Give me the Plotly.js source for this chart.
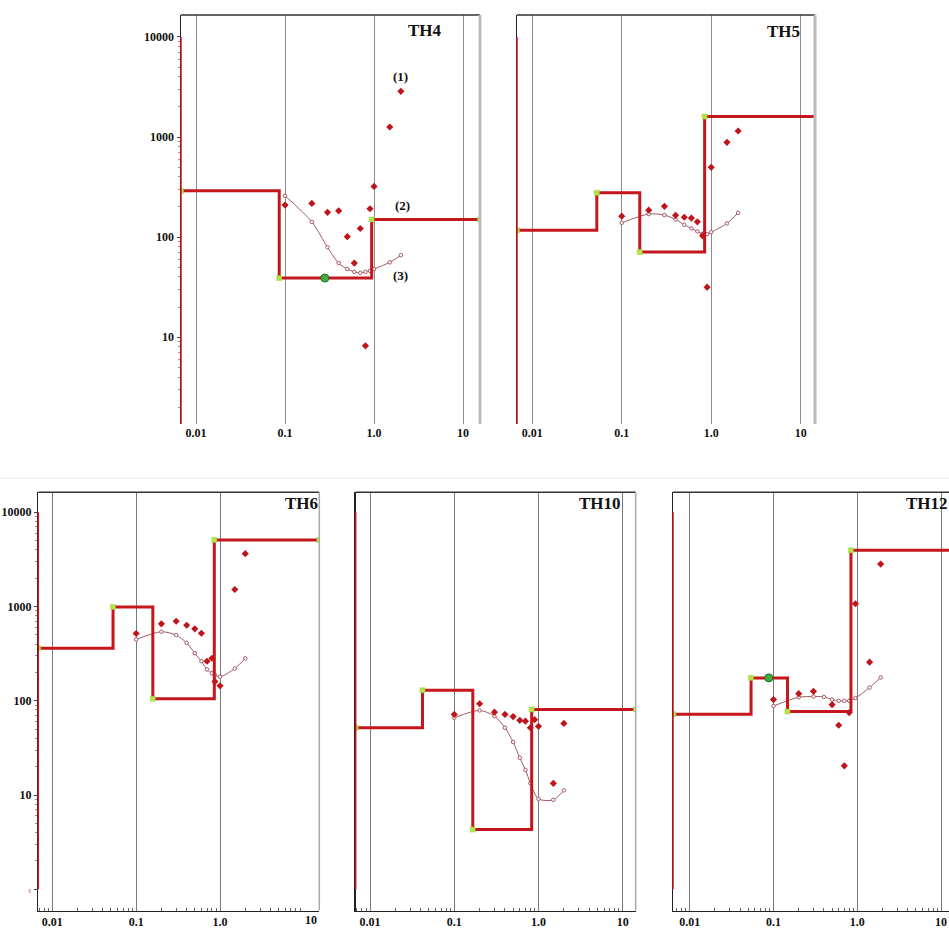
<!DOCTYPE html>
<html><head><meta charset="utf-8">
<script src="https://cdn.plot.ly/plotly-3.0.1.min.js"></script>
<style>html,body{margin:0;padding:0;background:#fff}#chart{width:949px;height:928px}</style>
</head><body><div id="chart"></div>
<script>
// ---------- data ----------
const panelNames = ['TH4', 'TH5', 'TH6', 'TH10', 'TH12'];
const xTickVals = [0.01, 0.1, 1, 10];
const xTickText = ['0.01', '0.1', '1.0', '10'];
const yTickValsTop = [10, 100, 1000, 10000];
const yTickTextTop = ['10', '100', '1000', '10000'];
const yTickValsBot = [1, 10, 100, 1000, 10000];
const yTickTextBot = ['<span style="font-size:7px;color:#d08080">1</span>', '10', '100', '1000', '10000'];

// layered model (layer tops / resistivity)
const th4LayerX = [0.00678, 0.086, 0.94, 15.5];
const th4LayerY = [290, 39, 150, 150];
const th4ObsX = [0.1, 0.2, 0.3, 0.4, 0.5, 0.6, 0.7, 0.8, 0.9, 1.0, 1.5, 2.0];
const th4ObsY = [209, 217, 177, 183, 101, 55, 122, 8.2, 192, 321, 1260, 2860];
const th4FitX = [0.1, 0.2, 0.3, 0.4, 0.5, 0.6, 0.7, 0.8, 0.9, 1.0, 1.5, 2.0];
const th4FitY = [259, 142, 79, 55, 48, 45, 44, 45, 46, 48, 56, 66];
const th4PointX = [0.28];
const th4PointY = [39];

const th5LayerX = [0.00675, 0.0526, 0.159, 0.844, 15.5];
const th5LayerY = [117, 277, 71, 1600, 1600];
const th5ObsX = [0.1, 0.2, 0.3, 0.4, 0.5, 0.6, 0.7, 0.8, 0.9, 1.0, 1.5, 2.0];
const th5ObsY = [162, 186, 203, 165, 158, 155, 142, 103, 31.6, 498, 885, 1148];
const th5FitX = [0.1, 0.2, 0.3, 0.4, 0.5, 0.6, 0.7, 0.8, 0.9, 1.0, 1.5, 2.0];
const th5FitY = [139, 170, 166, 150, 133, 122, 114, 108, 107, 112, 137, 175];

const th6LayerX = [0.0068, 0.053, 0.158, 0.855, 15.3];
const th6LayerY = [361, 990, 105, 5080, 5080];
const th6ObsX = [0.1, 0.2, 0.3, 0.4, 0.5, 0.6, 0.7, 0.8, 0.87, 1.0, 1.5, 2.0];
const th6ObsY = [518, 655, 698, 633, 580, 521, 263, 283, 160, 144, 1515, 3640];
const th6FitX = [0.1, 0.2, 0.3, 0.4, 0.5, 0.6, 0.7, 0.8, 0.87, 1.0, 1.5, 2.0];
const th6FitY = [447, 540, 497, 412, 320, 263, 215, 196, 187, 180, 220, 282];

const th10LayerX = [0.00676, 0.042, 0.166, 0.83, 14.3];
const th10LayerY = [51.8, 129, 4.3, 81, 81];
const th10ObsX = [0.1, 0.2, 0.3, 0.4, 0.5, 0.6, 0.7, 0.8, 0.9, 1.0, 1.5, 2.0];
const th10ObsY = [71.7, 93, 75.8, 71.7, 68, 62, 60.8, 51.8, 63, 53.6, 13.3, 57.5];
const th10FitX = [0.1, 0.2, 0.3, 0.4, 0.5, 0.6, 0.7, 0.8, 1.0, 1.5, 2.0];
const th10FitY = [66, 79, 68.7, 51.8, 36.5, 24.8, 18.5, 13.4, 9.1, 8.9, 11.2];

const th12LayerX = [0.0064, 0.054, 0.147, 0.84, 15];
const th12LayerY = [72, 175, 77, 3950, 3950];
const th12ObsX = [0.1, 0.2, 0.3, 0.5, 0.6, 0.7, 0.8, 0.95, 1.4, 1.9];
const th12ObsY = [103, 119, 126, 91, 55, 20.4, 75, 1070, 257, 2820];
const th12FitX = [0.1, 0.2, 0.3, 0.4, 0.5, 0.6, 0.7, 0.8, 0.95, 1.4, 1.9];
const th12FitY = [88, 109, 111, 110, 103, 100, 100, 100, 107, 138, 177];
const th12PointX = [0.088];
const th12PointY = [175];

const th4NoteText = ['(1)', '(2)', '(3)'];
const th4NoteX = [1.96, 2.06, 1.96];
const th4NoteY = [3980, 208, 41.8];

// ---------- layout helpers ----------
const W = 949, H = 928;
const STEP = '#c4161c', OBS = '#c0141c', FIT = '#a45a64', NODE = '#b6e24c';
const SERIF = 'Liberation Serif, Times New Roman, serif';

const panels = [
  {name: 'TH4', lx: th4LayerX, ly: th4LayerY, ox: th4ObsX, oy: th4ObsY, fx: th4FitX, fy: th4FitY, px: th4PointX, py: th4PointY,
   px0: 181, px1: 480, py0: 15, py1: 424, xr: [-2.169, 1.19], yr: [0.133, 4.219], row: 'top', ylab: true, tx: 0.816, ty: 0.963},
  {name: 'TH5', lx: th5LayerX, ly: th5LayerY, ox: th5ObsX, oy: th5ObsY, fx: th5FitX, fy: th5FitY,
   px0: 517, px1: 815, py0: 15, py1: 424, xr: [-2.171, 1.16], yr: [0.133, 4.219], row: 'top', ylab: false, tx: 0.893, ty: 0.959},
  {name: 'TH6', lx: th6LayerX, ly: th6LayerY, ox: th6ObsX, oy: th6ObsY, fx: th6FitX, fy: th6FitY,
   px0: 38.3, px1: 319.3, py0: 492.3, py1: 910.5, xr: [-2.167, 1.184], yr: [-0.225, 4.212], row: 'bot', ylab: true, tx: 0.938, ty: 0.974, edgeTen: true},
  {name: 'TH10', lx: th10LayerX, ly: th10LayerY, ox: th10ObsX, oy: th10ObsY, fx: th10FitX, fy: th10FitY,
   px0: 355.7, px1: 635.7, py0: 492.3, py1: 910.5, xr: [-2.17, 1.154], yr: [-0.225, 4.212], row: 'bot', ylab: false, tx: 0.872, ty: 0.974},
  {name: 'TH12', lx: th12LayerX, ly: th12LayerY, ox: th12ObsX, oy: th12ObsY, fx: th12FitX, fy: th12FitY, px: th12PointX, py: th12PointY,
   px0: 673, px1: 949, py0: 492.3, py1: 910.5, xr: [-2.199, 1.094], yr: [-0.225, 4.212], row: 'bot', ylab: false, tx: 0.92, ty: 0.974}
];

const minorY = [];
for (let k = 0; k <= 3; k++) for (let m = 2; m <= 9; m++) minorY.push(m * Math.pow(10, k));
const minorX = [];
for (let k = -3; k <= 1; k++) for (let m = 2; m <= 9; m++) minorX.push(m * Math.pow(10, k));

const traces = [];
const layout = {
  width: W, height: H, margin: {l: 0, r: 0, t: 0, b: 0},
  paper_bgcolor: '#fff', plot_bgcolor: '#fff', showlegend: false,
  shapes: [], annotations: []
};
const tickFont = {family: SERIF, size: 12, color: '#111', weight: 'bold'};

panels.forEach((p, i) => {
  const n = i + 1;
  const xs = n === 1 ? 'x' : 'x' + n;
  const ys = n === 1 ? 'y' : 'y' + n;
  const xk = n === 1 ? 'xaxis' : 'xaxis' + n;
  const yk = n === 1 ? 'yaxis' : 'yaxis' + n;
  const top = p.row === 'top';

  layout[xk] = {
    type: 'log', range: p.xr, domain: [p.px0 / W, p.px1 / W], anchor: ys,
    tickmode: 'array', tickvals: p.edgeTen ? xTickVals.slice(0, 3) : xTickVals,
    ticktext: p.edgeTen ? xTickText.slice(0, 3) : xTickText,
    showgrid: true, gridcolor: top ? '#8c8c8c' : '#7a7a7a', gridwidth: 1,
    zeroline: false, ticks: '', showline: !top, linecolor: '#222', linewidth: 1.5,
    tickfont: tickFont,
    minor: top ? undefined : {tickmode: 'array', tickvals: minorX, ticks: 'inside', ticklen: 3, tickcolor: '#666', showgrid: false}
  };
  layout[yk] = {
    type: 'log', range: p.yr, domain: [1 - p.py1 / H, 1 - p.py0 / H], anchor: xs,
    tickmode: 'array', tickvals: top ? yTickValsTop : yTickValsBot, ticktext: top ? yTickTextTop : yTickTextBot,
    showticklabels: p.ylab, showgrid: false, zeroline: false,
    ticks: p.ylab ? 'outside' : '', ticklen: 3, tickcolor: '#444',
    showline: true, linecolor: '#222', linewidth: 1.5,
    tickfont: tickFont,
    minor: p.ylab ? {tickmode: 'array', tickvals: minorY, ticks: 'outside', ticklen: 2, tickcolor: '#c08080', showgrid: false} : undefined
  };

  // fitted response curve
  traces.push({x: p.fx, y: p.fy, xaxis: xs, yaxis: ys, type: 'scatter', mode: 'lines+markers',
    line: {color: FIT, width: 1, shape: 'spline', smoothing: 0.8},
    marker: {symbol: 'circle', size: 3.5, color: '#fff', line: {color: FIT, width: 1}}, hoverinfo: 'skip'});
  // layered model
  traces.push({x: p.lx, y: p.ly, xaxis: xs, yaxis: ys, type: 'scatter', mode: 'lines+markers',
    line: {color: STEP, width: 3, shape: 'hv'},
    marker: {symbol: 'square', size: 5, color: NODE, line: {color: '#9acc30', width: 0.5}}});
  // observed points
  traces.push({x: p.ox, y: p.oy, xaxis: xs, yaxis: ys, type: 'scatter', mode: 'markers',
    marker: {symbol: 'diamond', size: 5.5, color: OBS}});
  if (p.px) {
    traces.push({x: p.px, y: p.py, xaxis: xs, yaxis: ys, type: 'scatter', mode: 'markers',
      marker: {symbol: 'circle', size: 8, color: '#3fae3f', line: {color: '#1f6e1f', width: 1}}});
  }

  const xd = xs + ' domain', yd = ys + ' domain';
  // top border
  layout.shapes.push({type: 'line', xref: xd, yref: yd, x0: 0, x1: 1, y0: 1, y1: 1, line: {color: '#333', width: 1.5}});
  // right border
  if (p.px1 < W) layout.shapes.push({type: 'line', xref: xd, yref: yd, x0: 1, x1: 1, y0: 0, y1: 1,
    line: {color: top ? '#bbb' : '#aaa', width: top ? 3 : 1.5}});
  // red left line
  layout.shapes.push({type: 'line', xref: xd, yref: ys, x0: 0, x1: 0,
    y0: Math.max(1, Math.pow(10, p.yr[0])), y1: 10000, line: {color: '#c8161d', width: 1.5}});

  layout.annotations.push({xref: xd, yref: yd, x: p.tx, y: p.ty, text: '<b>' + p.name + '</b>', showarrow: false,
    font: {family: SERIF, size: 17, color: '#111'}, xanchor: 'center', yanchor: 'middle'});
  if (p.edgeTen) {
    layout.annotations.push({xref: xd, yref: yd, x: 1, y: 0, yshift: -9, text: '<b>' + xTickText[3] + '</b>',
      showarrow: false, font: tickFont, xanchor: 'right', yanchor: 'middle'});
  }
});

th4NoteText.forEach((t, i) => {
  layout.annotations.push({xref: 'x', yref: 'y', x: Math.log10(th4NoteX[i]), y: Math.log10(th4NoteY[i]),
    text: '<b>' + t + '</b>', showarrow: false, font: {family: SERIF, size: 13, color: '#111'}});
});

// faint separator between rows of the montage
layout.shapes.push({type: 'line', xref: 'paper', yref: 'paper', x0: 0, x1: 1, y0: 1 - 478 / H, y1: 1 - 478 / H,
  line: {color: '#ececec', width: 1}});

Plotly.newPlot('chart', traces, layout, {staticPlot: true, displayModeBar: false});
</script>
</body></html>
